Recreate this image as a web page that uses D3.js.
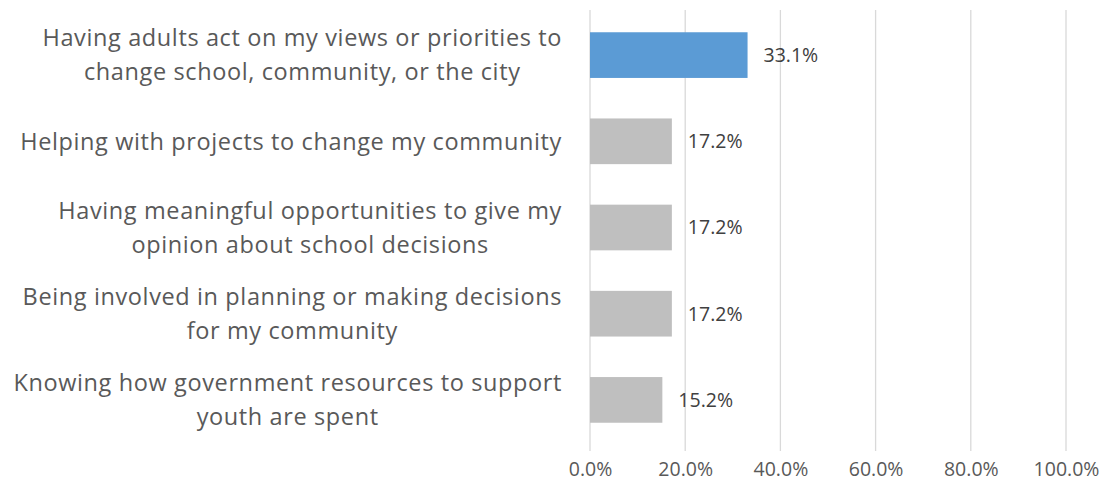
<!DOCTYPE html>
<html>
<head>
<meta charset="utf-8">
<script src="https://cdn.jsdelivr.net/npm/d3@7"></script>
<style>
  html, body { margin: 0; padding: 0; background: #fff; }
  svg { display: block; }
</style>
</head>
<body>
<div id="chart"></div>
<script>
// Categories (each entry is the wrapped lines of the label)
const categories = [
  ["Having adults act on my views or priorities to", "change school, community, or the city"],
  ["Helping with projects to change my community"],
  ["Having meaningful opportunities to give my", "opinion about school decisions"],
  ["Being involved in planning or making decisions", "for my community"],
  ["Knowing how government resources to support", "youth are spent"]
];
const values = [0.331, 0.172, 0.172, 0.172, 0.152];
const highlighted = [true, false, false, false, false];
const tickValues = [0, 0.2, 0.4, 0.6, 0.8, 1.0];

const width = 1106, height = 485;
const plotLeft = 590, plotRight = 1066;
const plotTop = 12, plotBottom = 443;
const labelRight = 562;

const svg = d3.select("#chart").append("svg")
  .attr("width", width).attr("height", height);

const x = d3.scaleLinear().domain([0, 1]).range([plotLeft, plotRight]);
const y = d3.scaleBand().domain(d3.range(categories.length))
  .range([plotTop, plotBottom]).paddingInner(0.47).paddingOuter(0.235);

const font = "'Open Sans', Lato, sans-serif";
const textColor = "#595959";

// vertical gridlines
svg.append("g").selectAll("line").data(tickValues).join("line")
  .attr("x1", d => x(d)).attr("x2", d => x(d))
  .attr("y1", 10).attr("y2", 451)
  .attr("stroke", "#D9D9D9").attr("stroke-width", 1.3);

// bottom axis tick labels
const axis = d3.axisBottom(x).tickValues(tickValues)
  .tickFormat(d3.format(".1%")).tickSize(0).tickPadding(0);
const ax = svg.append("g").attr("transform", `translate(0,462)`).call(axis);
ax.select(".domain").remove();
ax.selectAll("text").attr("font-family", font).attr("font-size", 19.5)
  .attr("fill", textColor).attr("dy", "0.71em");

// bars
svg.append("g").selectAll("rect").data(values).join("rect")
  .attr("x", x(0))
  .attr("y", (d, i) => y(i))
  .attr("width", d => x(d) - x(0))
  .attr("height", y.bandwidth())
  .attr("fill", (d, i) => highlighted[i] ? "#5B9BD5" : "#BFBFBF");

// value labels
svg.append("g").selectAll("text").data(values).join("text")
  .attr("x", d => x(d) + 16)
  .attr("y", (d, i) => y(i) + y.bandwidth() / 2)
  .attr("dy", "0.35em")
  .attr("font-family", font).attr("font-size", 19.5)
  .attr("fill", "#404040")
  .text(d => d3.format(".1%")(d));

// category labels: lines centred on each other, block right-aligned to the axis
const lineH = 34;
const lab = svg.append("g").selectAll("text").data(categories).join("text")
  .attr("text-anchor", "middle")
  .attr("font-family", font).attr("font-size", 23.5)
  .attr("letter-spacing", 0.62)
  .attr("fill", textColor);
lab.each(function(lines, i) {
  const cy = y(i) + y.bandwidth() / 2;
  const y0 = cy - (lines.length - 1) * lineH / 2;
  const spans = d3.select(this).selectAll("tspan").data(lines).join("tspan")
    .attr("y", (l, k) => y0 + k * lineH)
    .attr("dy", "0.35em")
    .text(l => l);
  const maxW = d3.max(spans.nodes(), n => n.getComputedTextLength());
  spans.attr("x", labelRight - maxW / 2);
});
</script>
</body>
</html>
